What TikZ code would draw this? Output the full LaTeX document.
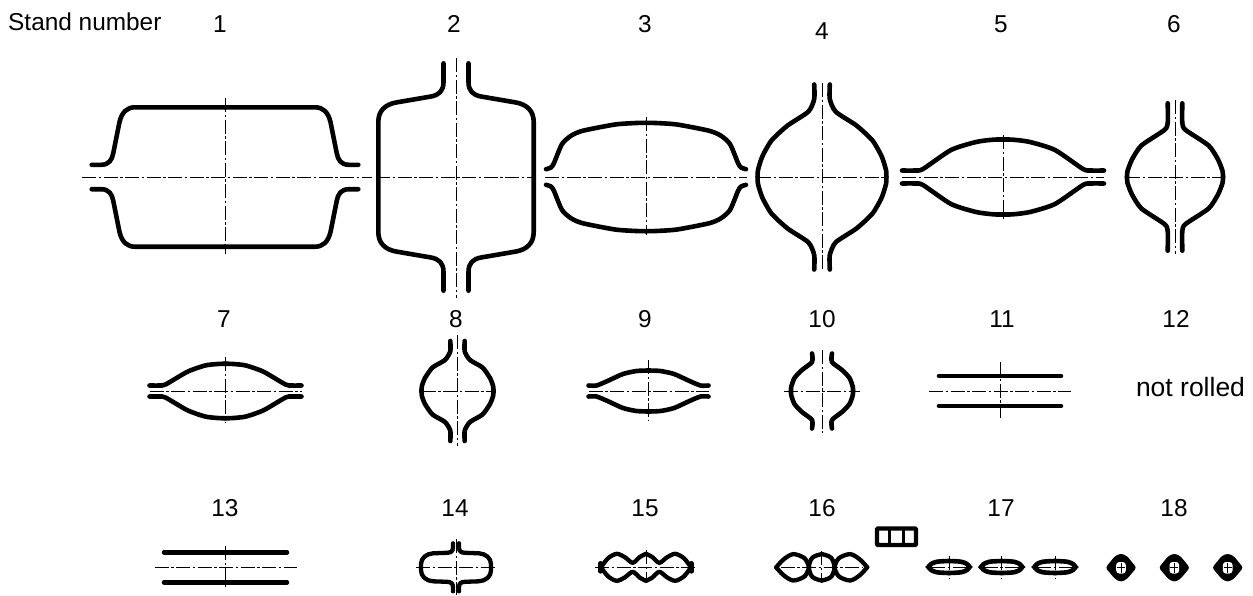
\documentclass[tikz,border=0pt]{standalone}
\usepackage{fontspec}
\setmainfont{Liberation Sans}
\newcommand{\quadshape}[3]{%
  \foreach \sx in {1,-1}{\foreach \sy in {1,-1}{%
    \draw[prof,shift={(#1,#2)},xscale=\sx,yscale=\sy] #3;}}}
\newcommand{\axes}[6]{%
  \draw[axisline] (#1-#3,#2) -- (#1+#4,#2);
  \draw[axisline] (#1,#2-#5) -- (#1,#2+#6);}
\tikzset{
  prof/.style={line width=4.6pt,line cap=round,line join=round,black},
  profs/.style={line width=4.3pt,line cap=round,line join=round,black},
  axisline/.style={line width=0.85pt,black,dash pattern=on 14pt off 2.5pt on 2.5pt off 2.5pt},
  lab/.style={inner sep=0pt,anchor=base,font=\fontsize{24.4}{28}\selectfont},
}
\begin{document}
\begin{tikzpicture}[x=1pt,y=-1pt]
\useasboundingbox (0,0) rectangle (1253,595);
\fill[white] (0,0) rectangle (1253,595);
% labels
\node[lab,anchor=base west] (title) at (8,30) {Stand number};
\node[lab] (n1) at (220,32) {1};
\node[lab] (n2) at (454,32) {2};
\node[lab] (n3) at (645,32) {3};
\node[lab] (n4) at (822,39) {4};
\node[lab] (n5) at (1001,32) {5};
\node[lab] (n6) at (1174,32) {6};
\node[lab] (n7) at (224,327.5) {7};
\node[lab] (n8) at (456,327.5) {8};
\node[lab] (n9) at (645,327.5) {9};
\node[lab] (n10) at (822,327.5) {10};
\node[lab] (n11) at (1002,327.5) {11};
\node[lab] (n12) at (1176,327.5) {12};
\node[lab] (n13) at (225,516) {13};
\node[lab] (n14) at (455,516) {14};
\node[lab] (n15) at (645,516) {15};
\node[lab] (n16) at (822,516) {16};
\node[lab] (n17) at (1001,516) {17};
\node[lab] (n18) at (1174,516) {18};
\node[lab,font=\fontsize{26.5}{30}\selectfont] (nr) at (1190.5,396) {not rolled};
% stand 1
\axes{225}{177}{143}{147}{79}{77}
\quadshape{225}{177}{(-133.3,-12.2) -- (-124,-12.2) .. controls (-116,-12.2) and (-113,-17) .. (-111.7,-24) -- (-105.5,-55) .. controls (-103,-65) and (-98,-69.7) .. (-90,-69.7) -- (0,-69.7)}
% stand 2
\axes{456}{177}{80}{80}{119}{121}
\quadshape{456}{177}{(-12.5,-113.7) -- (-12.5,-95) .. controls (-12.5,-86) and (-17,-82) .. (-25,-80.5) -- (-60,-74.5) .. controls (-71,-72.5) and (-77.7,-66) .. (-77.7,-55) -- (-77.7,0)}
% stand 3
\axes{646}{177}{101}{101}{60}{58}
\quadshape{646}{177}{plot[smooth,tension=.4] coordinates {(-100,-7.8) (-95,-9.5) (-92,-14) (-84,-33) (-74.6,-41.5) (-63,-46.3) (-31,-52.5) (-10,-54) (0,-54.2)}}
% stand 4
\axes{822}{177}{65}{65}{94}{94}
\quadshape{822}{177}{plot[smooth,tension=.4] coordinates {(-7.8,-92.5) (-7.8,-78) (-13.7,-65.3) (-34.4,-51.5) (-50.5,-36.5) (-59.7,-20.5) (-64,-7) (-64.4,0)}}
% stand 5
\axes{1003}{177}{101}{101}{42}{42}
\quadshape{1003}{177}{plot[smooth,tension=.4] coordinates {(-101,-6.5) (-88,-6.5) (-80,-8) (-52,-27) (-27,-35) (-10,-37.3) (0,-37.5)}}
% stand 6
\axes{1175}{177}{49}{49}{77}{77}
\quadshape{1175}{177}{plot[smooth,tension=.4] coordinates {(-7.3,-73.7) (-7.3,-54) (-10.6,-47) (-33.6,-31.5) (-43,-17.5) (-47.5,-6) (-48,0)}}
% stand 7
\axes{225.5}{391}{76}{76}{34}{32}
\quadshape{225.5}{391}{plot[smooth,tension=.4] coordinates {(-76,-5.5) (-66,-5.5) (-60,-6.5) (-38,-19.3) (-20.5,-25.5) (-8,-27) (0,-27.3)}}
% stand 8
\axes{457.5}{391}{36}{36}{56}{55}
\quadshape{457.5}{391}{plot[smooth,tension=.4] coordinates {(-7.2,-50) (-7.2,-39.6) (-12.5,-31) (-25,-23.5) (-32.5,-13) (-35.6,-5) (-36,0)}}
% stand 9
\axes{648.5}{391}{60}{60}{31}{30}
\quadshape{648.5}{391}{plot[smooth,tension=.4] coordinates {(-60,-5.5) (-52,-5.5) (-41,-10) (-25.6,-17) (-12,-20) (0,-20.5)}}
% stand 10
\axes{822}{391}{38}{38}{41}{42}
\quadshape{822}{391}{plot[smooth,tension=.45] coordinates {(-10,-37.5) (-10,-29) (-20,-21) (-27.5,-13) (-30.8,-4) (-31,0)}}
% stand 11
\axes{1000}{391}{71}{71}{29}{27}
\coordinate (a11l) at (939,376); \coordinate (a11r) at (1061,376);
\coordinate (b11l) at (939,406); \coordinate (b11r) at (1061,406);
\draw[prof] (a11l) -- (a11r);
\draw[prof] (b11l) -- (b11r);
% stand 13
\axes{225.5}{567.3}{71}{71}{21}{21}
\coordinate (a13l) at (164,552.3); \coordinate (a13r) at (287,552.3);
\coordinate (b13l) at (164,582.3); \coordinate (b13r) at (287,582.3);
\draw[prof] (a13l) -- (a13r);
\draw[prof] (b13l) -- (b13r);
% stand 14
\axes{456}{567.3}{40}{40}{28}{28}
\foreach \sx in {1,-1}{\foreach \sy in {1,-1}{
  \draw[profs,shift={(456,567.3)},xscale=\sx,yscale=\sy]
    (-3,-24) -- (-3,-20) .. controls (-3,-16) and (-5,-14.7) .. (-9,-14.5) -- (-23,-14) .. controls (-30,-13.5) and (-35,-9) .. (-35,-3) -- (-35,0);}}
% stand 15
\axes{646}{567.3}{51}{51}{17}{16}
\quadshape{646}{567.3}{(-45.5,-4) -- (-45.5,0)}
\foreach \sx in {1,-1}{\foreach \sy in {1,-1}{
  \draw[profs,shift={(646,567.3)},xscale=\sx,yscale=\sy]
    plot[smooth,tension=.5] coordinates {(-45,0) (-38,-9) (-29.3,-13.5) (-21,-10) (-13.3,-4.5) (-6,-10.5) (0,-13.5)};}}
% stand 16
\axes{821.7}{567.3}{41}{41}{16}{16}
\foreach \sx in {1,-1}{\foreach \sy in {1,-1}{
  \draw[profs,shift={(821.7,567.3)},xscale=\sx,yscale=\sy]
    plot[smooth,tension=.5] coordinates {(-45.5,0) (-38,-8) (-28.4,-13.2) (-17,-9) (-12.5,0)};
  \draw[profs,shift={(821.7,567.3)},xscale=\sx,yscale=\sy]
    plot[smooth,tension=.7] coordinates {(-13,0) (-9.5,-9.5) (0,-13.2)};}}
% pass diagram
\draw[profs,line join=miter,rounded corners=1pt] (877,528.5) rectangle (916,545);
\coordinate (d1t) at (889.6,528.5); \coordinate (d1b) at (889.6,545);
\coordinate (d2t) at (903.3,528.5); \coordinate (d2b) at (903.3,545);
\draw[line width=3.2pt] (d1t) -- (d1b);
\draw[line width=3.2pt] (d2t) -- (d2b);
% stand 17
\foreach \c in {949,1001.7,1055}{
  \axes{\c}{567}{18}{18}{11}{11}
  \foreach \sx in {1,-1}{\foreach \sy in {1,-1}{
    \draw[profs,line width=4.6pt,shift={(\c,567)},xscale=\sx,yscale=\sy]
      plot[smooth,tension=.5] coordinates {(-20.5,0) (-18,-3) (-12,-5.3) (0,-6)};}}
  \fill[black] (\c-24,567) -- (\c-17,562) -- (\c-17,572) -- cycle;
  \fill[black] (\c+24,567) -- (\c+17,562) -- (\c+17,572) -- cycle;
}
% stand 18
\foreach \c in {1121,1174.3,1227.7}{
  \fill[black,rounded corners=2.5pt] (\c-15.5,567.7) -- (\c-6,556) -- (\c,553.5) -- (\c+6,556) -- (\c+15.5,567.7) -- (\c+6,579) -- (\c,582) -- (\c-6,579) -- cycle;
  \fill[white,rounded corners=3pt] (\c-4.8,562) rectangle (\c+4.8,573.5);
  \draw[black,line width=0.8pt] (\c-4,567.7) -- (\c+4,567.7);
  \draw[black,line width=0.8pt] (\c,562.5) -- (\c,573);
}
\end{tikzpicture}
\end{document}
